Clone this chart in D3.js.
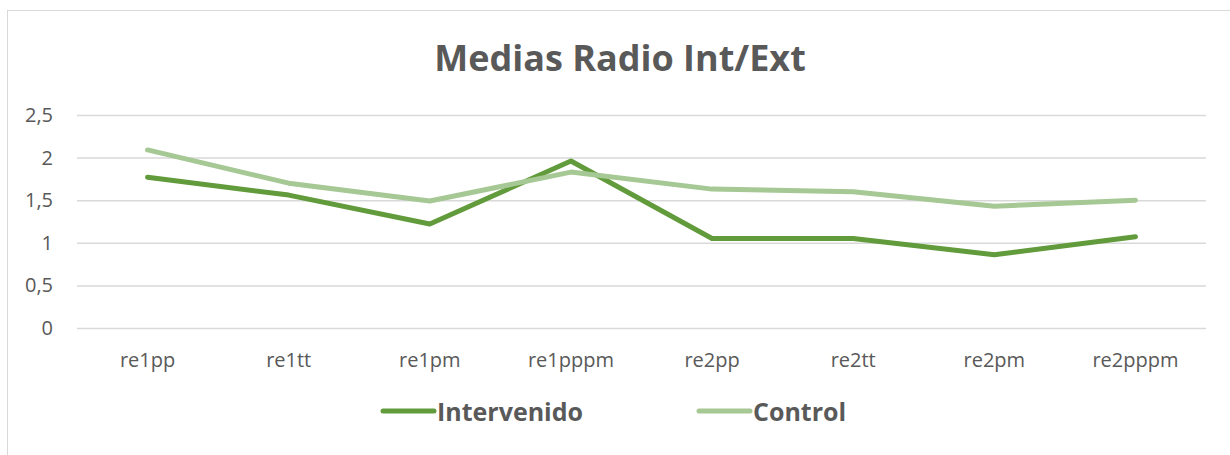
<!DOCTYPE html>
<html>
<head>
<meta charset="utf-8">
<script src="https://cdn.jsdelivr.net/npm/d3@7"></script>
<style>
  html, body { margin: 0; padding: 0; background: #fff; }
  svg { display: block; }
</style>
</head>
<body>
<svg id="chart" width="1230" height="455"></svg>
<script>
// Mean inner/outer radius ratio per measurement
const categories = ["re1pp", "re1tt", "re1pm", "re1pppm", "re2pp", "re2tt", "re2pm", "re2pppm"];
const intervenido = [1.77, 1.56, 1.22, 1.96, 1.05, 1.05, 0.86, 1.07];
const control = [2.09, 1.70, 1.49, 1.83, 1.63, 1.60, 1.43, 1.50];
const yTicks = [0, 0.5, 1, 1.5, 2, 2.5];
const seriesNames = ["Intervenido", "Control"];
const seriesColors = ["#629b3b", "#a5c894"];

const svg = d3.select("#chart");
const W = 1230, H = 455;
const font = "'Open Sans', sans-serif";
const textColor = "#595959";

// chart area frame
svg.append("rect")
  .attr("x", 7.5).attr("y", 10.5)
  .attr("width", W + 10).attr("height", H + 10)
  .attr("fill", "none").attr("stroke", "#d9d9d9").attr("stroke-width", 1);

const x = d3.scaleBand().domain(categories).range([77, 1206]);
const y = d3.scaleLinear().domain([0, 2.5]).range([328, 115]);

// title
svg.append("text")
  .attr("x", 620).attr("y", 71)
  .attr("text-anchor", "middle")
  .attr("font-family", font).attr("font-weight", "bold")
  .attr("font-size", 36).attr("fill", textColor)
  .text("Medias Radio Int/Ext");

// horizontal gridlines and value labels
const yAxis = d3.axisLeft(y).tickValues(yTicks)
  .tickSize(-(x.range()[1] - x.range()[0]))
  .tickPadding(24)
  .tickFormat(d => d3.format("")(d).replace(".", ","));
const gy = svg.append("g").attr("transform", `translate(${x.range()[0]},0)`).call(yAxis);
gy.select(".domain").remove();
gy.selectAll(".tick line").attr("stroke", "#d9d9d9").attr("stroke-width", 1.5);
gy.selectAll(".tick text")
  .attr("font-family", font).attr("font-size", 20).attr("fill", textColor);

// category labels
const xAxis = d3.axisBottom(x).tickSize(0).tickPadding(25);
const gx = svg.append("g").attr("transform", `translate(0,${y(0)})`).call(xAxis);
gx.select(".domain").remove();
gx.selectAll(".tick text")
  .attr("font-family", font).attr("font-size", 20).attr("fill", textColor);

// series lines
const line = d3.line()
  .x((d, i) => x(categories[i]) + x.bandwidth() / 2)
  .y(d => y(d));

[intervenido, control].forEach((vals, k) => {
  svg.append("path")
    .datum(vals)
    .attr("d", line)
    .attr("fill", "none")
    .attr("stroke", seriesColors[k])
    .attr("stroke-width", 5)
    .attr("stroke-linejoin", "round")
    .attr("stroke-linecap", "round");
});

// legend
const legendX = [383, 699];
seriesNames.forEach((name, k) => {
  const g = svg.append("g").attr("transform", `translate(${legendX[k]},411)`);
  g.append("line")
    .attr("x1", 0).attr("x2", 51).attr("y1", 0).attr("y2", 0)
    .attr("stroke", seriesColors[k]).attr("stroke-width", 5)
    .attr("stroke-linecap", "round");
  g.append("text")
    .attr("x", 54).attr("y", 10)
    .attr("font-family", font).attr("font-weight", "bold")
    .attr("font-size", 25).attr("fill", textColor)
    .text(name);
});
</script>
</body>
</html>
